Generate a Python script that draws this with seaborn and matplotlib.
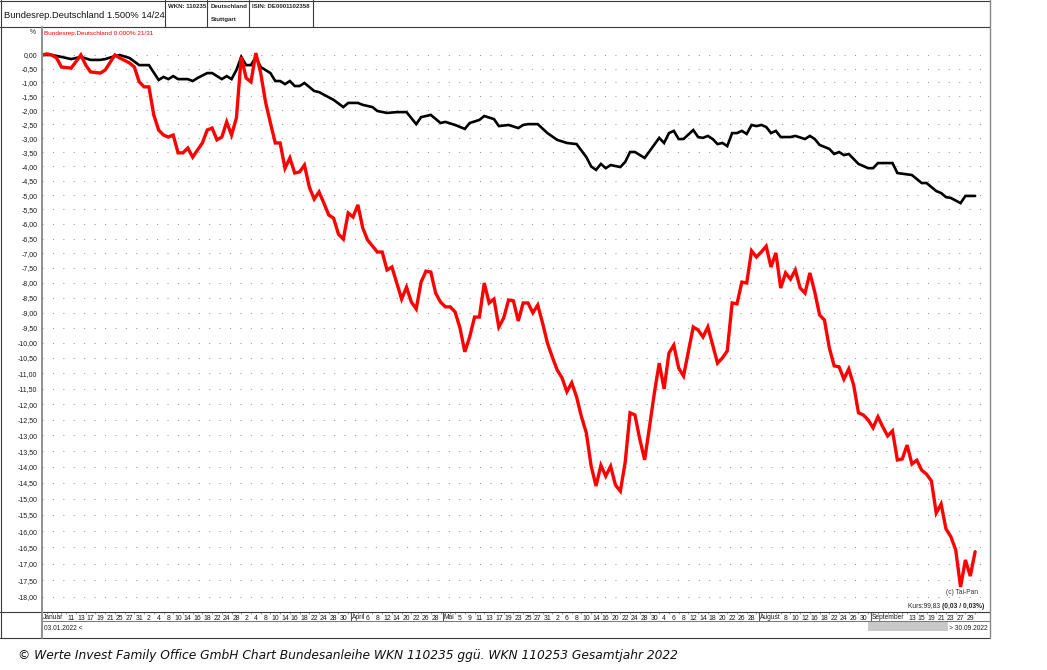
import numpy as np
import pandas as pd
import seaborn as sns
import matplotlib
matplotlib.use("Agg")
import matplotlib.pyplot as plt
from matplotlib.lines import Line2D
from matplotlib.patches import Rectangle
from matplotlib import transforms
from matplotlib import font_manager as fm

# ---------------- data (percent change vs. 03.01.2022, per trading day number) ----------------
black_name = "Bundesrep.Deutschland 1.500% 14/24"
red_name = "Bundesrep.Deutschland 0.000% 21/31"

black_day = [0, 2, 4, 6, 8, 10, 12, 13, 15, 16, 18, 20, 22, 24, 25, 26, 27, 28, 30, 31,
             32, 34, 35, 36, 37, 38, 39, 40, 41, 42, 43, 44, 45, 47, 48, 49, 50, 51, 52, 53,
             54, 56, 57, 60, 62, 63, 65, 66, 68, 69, 71, 73, 75, 77, 78, 80, 82, 83, 85, 87,
             88, 90, 91, 93, 94, 96, 98, 99, 100, 102, 104, 106, 108, 110, 112, 113, 114, 115, 116, 117,
             119, 120, 121, 122, 124, 127, 128, 129, 130, 131, 132, 134, 135, 136, 137, 138, 139, 140, 141, 142,
             143, 144, 145, 146, 147, 148, 149, 150, 151, 152, 154, 155, 157, 158, 159, 160, 162, 163, 164, 165,
             166, 168, 170, 171, 172, 175, 176, 179, 181, 182, 184, 185, 186, 187, 189, 190, 192]
black_pct = [0.00, 0.00, -0.07, -0.15, -0.07, -0.18, -0.18, -0.15, -0.04, 0.00, -0.11, -0.37, -0.37, -0.91, -0.80, -0.88, -0.77, -0.88, -0.88, -0.95,
             -0.84, -0.66, -0.66, -0.77, -0.88, -0.77, -0.88, -0.55, -0.07, -0.37, -0.37, -0.07, -0.44, -0.66, -0.95, -0.95, -1.06, -0.95, -1.13, -1.13,
             -1.02, -1.31, -1.35, -1.63, -1.89, -1.74, -1.74, -1.81, -1.89, -2.03, -2.10, -2.07, -2.07, -2.50, -2.25, -2.17, -2.46, -2.42, -2.53, -2.67,
             -2.46, -2.35, -2.21, -2.32, -2.57, -2.53, -2.64, -2.53, -2.50, -2.50, -2.82, -3.06, -3.17, -3.21, -3.67, -4.00, -4.12, -3.91, -4.06, -3.95,
             -4.02, -3.84, -3.49, -3.49, -3.70, -2.99, -3.17, -2.82, -2.74, -3.03, -3.03, -2.71, -2.96, -2.99, -2.92, -3.03, -3.21, -3.17, -3.28, -2.82,
             -2.82, -2.74, -2.85, -2.53, -2.57, -2.53, -2.60, -2.82, -2.74, -2.96, -2.96, -2.92, -3.03, -2.92, -3.03, -3.24, -3.38, -3.56, -3.49, -3.60,
             -3.56, -3.91, -4.06, -4.06, -3.88, -3.88, -4.23, -4.30, -4.58, -4.58, -4.86, -4.93, -5.07, -5.10, -5.28, -5.03, -5.03]

red_day = [0, 1, 2, 3, 4, 6, 8, 9, 10, 12, 13, 15, 16, 18, 19, 20, 21, 22, 23, 24,
           25, 26, 27, 28, 29, 30, 31, 33, 34, 35, 36, 37, 38, 39, 40, 41, 42, 43, 44, 45,
           46, 47, 48, 49, 50, 51, 52, 53, 54, 55, 56, 57, 58, 59, 60, 61, 62, 63, 64, 65,
           66, 67, 69, 70, 71, 72, 74, 75, 76, 77, 78, 79, 80, 81, 82, 83, 84, 85, 86, 87,
           88, 89, 90, 91, 92, 93, 94, 95, 96, 97, 98, 99, 100, 101, 102, 103, 104, 105, 106, 107,
           108, 109, 110, 111, 112, 113, 114, 115, 116, 117, 118, 119, 120, 121, 122, 123, 124, 125, 126, 127,
           128, 129, 130, 131, 132, 134, 135, 136, 137, 139, 140, 141, 142, 143, 144, 145, 146, 147, 148, 149,
           150, 151, 152, 153, 154, 155, 156, 157, 158, 159, 160, 161, 162, 163, 164, 165, 166, 167, 168, 169,
           170, 171, 172, 173, 174, 175, 176, 177, 178, 179, 180, 181, 182, 183, 184, 185, 186, 187, 188, 189,
           190, 191, 192]
red_pct = [0.00, 0.04, 0.00, -0.11, -0.44, -0.48, 0.00, -0.37, -0.62, -0.66, -0.55, 0.00, -0.11, -0.29, -0.44, -0.98, -1.16, -1.16, -2.17, -2.71,
           -2.89, -2.96, -2.89, -3.52, -3.52, -3.35, -3.67, -3.17, -2.71, -2.64, -3.06, -2.96, -2.42, -2.89, -2.28, -0.07, -0.84, -0.98, 0.07, -0.66,
           -1.71, -2.46, -3.17, -3.17, -4.06, -3.70, -4.23, -4.19, -3.95, -4.72, -5.14, -4.89, -5.28, -5.69, -5.80, -6.35, -6.52, -5.62, -5.76, -5.34,
           -6.14, -6.55, -6.96, -6.96, -7.57, -7.47, -8.55, -8.15, -8.65, -8.88, -7.98, -7.61, -7.64, -8.35, -8.65, -8.81, -8.81, -8.98, -9.51, -10.30,
           -9.81, -9.15, -9.15, -8.01, -8.68, -8.55, -9.48, -9.18, -8.58, -8.61, -9.28, -8.68, -8.68, -9.01, -8.75, -9.35, -10.01, -10.47, -10.89, -11.15,
           -11.60, -11.31, -11.77, -12.41, -12.92, -13.98, -14.60, -13.95, -14.29, -13.98, -14.57, -14.76, -13.85, -12.28, -12.35, -13.12, -13.78, -12.73, -11.64, -10.67,
           -11.51, -10.34, -10.08, -10.83, -11.09, -9.48, -9.58, -9.81, -9.48, -10.67, -10.50, -10.27, -8.68, -8.71, -7.98, -8.01, -6.92, -7.13, -6.96, -6.76,
           -7.47, -6.99, -8.18, -7.67, -7.88, -7.57, -8.18, -8.35, -7.67, -8.31, -9.08, -9.25, -10.17, -10.76, -10.79, -11.19, -10.86, -11.38, -12.28, -12.35,
           -12.51, -12.76, -12.41, -12.73, -13.02, -12.86, -13.78, -13.75, -13.31, -13.91, -13.79, -14.10, -14.23, -14.44, -15.44, -15.16, -15.93, -16.17, -16.57, -17.70,
           -16.88, -17.37, -16.63]

assert len(black_day) == len(black_pct), (len(black_day), len(black_pct))
assert len(red_day) == len(red_pct), (len(red_day), len(red_pct))

first_day, last_day = "2022-01-03", "2022-09-30"
holidays = ["2022-04-15", "2022-04-18"]

# x-axis labels
month_names = ["Januar", "April", "Mai", "August", "September"]
month_starts = ["2022-01-03", "2022-04-01", "2022-05-02", "2022-08-01", "2022-09-01"]
jan_days = [11, 13, 17, 19, 21, 25, 27, 31]
feb_days = [2, 4, 8, 10, 14, 16, 18, 22, 24, 28]
mar_days = [2, 4, 8, 10, 14, 16, 18, 22, 24, 28, 30]
apr_days = [6, 8, 12, 14, 20, 22, 26, 28]
may_days = [5, 9, 11, 13, 17, 19, 23, 25, 27, 31]
jun_days = [2, 6, 8, 10, 14, 16, 20, 22, 24, 28, 30]
jul_days = [4, 6, 8, 12, 14, 18, 20, 22, 26, 28]
aug_days = [8, 10, 12, 16, 18, 22, 24, 26, 30]
sep_days = [13, 15, 19, 21, 23, 27, 29]

y_ticks = list(np.round(np.arange(0.0, -18.001, -0.5), 2))

# ---------------- setup ----------------
sns.set_theme(style="white")
avail = {f.name for f in fm.fontManager.ttflist}
if "Liberation Sans Narrow" in avail:
    NARROW, K = "Liberation Sans Narrow", 1.0
else:
    NARROW, K = "Liberation Sans", 0.82
plt.rcParams["font.family"] = [NARROW, "DejaVu Sans"]

W, H = 1047, 670
fig = plt.figure(figsize=(W / 100, H / 100), dpi=100)
fig.patch.set_facecolor("white")


def fx(x):
    return x / W


def fy(y):
    return 1 - y / H


L, R, T, B = 42, 990, 27, 612
ax = fig.add_axes([fx(L), fy(B), fx(R) - fx(L), fy(T) - fy(B)])
ax.set_facecolor("white")

days = pd.bdate_range(first_day, last_day)
days = days[~days.isin(pd.to_datetime(holidays))]


def pos(d):
    return days.get_loc(pd.Timestamp(d))


df_black = pd.DataFrame({"day": black_day, "pct": black_pct})
df_red = pd.DataFrame({"day": red_day, "pct": red_pct})

sns.lineplot(data=df_black, x="day", y="pct", color="black", linewidth=1.9,
             estimator=None, sort=False, ax=ax, solid_joinstyle="miter")
sns.lineplot(data=df_red, x="day", y="pct", color="#ff0000", linewidth=2.4,
             estimator=None, sort=False, ax=ax, solid_joinstyle="miter")


def fwd(p):
    return np.log1p(np.asarray(p, dtype=float) / 100.0)


def inv(t):
    return 100.0 * np.expm1(np.asarray(t, dtype=float))


ax.set_yscale("function", functions=(fwd, inv))
ax.set_ylim(-18.45, 1.03)
ax.set_xlim(0, 195.06)
ax.set_xlabel("")
ax.set_ylabel("")

ax.set_yticks(y_ticks)
ax.set_yticklabels([f"{v:.2f}".replace(".", ",") for v in y_ticks])
ax.yaxis.set_minor_locator(matplotlib.ticker.NullLocator())
ax.tick_params(axis="y", length=0, pad=3.3, labelsize=6.1 * K, labelcolor="#1a1a1a")
ax.grid(axis="y", linestyle=(0, (1, 9)), color="#9a9a9a", linewidth=0.75)
ax.grid(axis="x", visible=False)
for s in ax.spines.values():
    s.set_visible(False)

# x ticks
tick_pos, tick_lab = [], []
for m, lst in enumerate([jan_days, feb_days, mar_days, apr_days, may_days,
                         jun_days, jul_days, aug_days, sep_days], start=1):
    for d in lst:
        tick_pos.append(pos(f"2022-{m:02d}-{d:02d}"))
        tick_lab.append(str(d))
ax.set_xticks(tick_pos)
ax.set_xticklabels(tick_lab)
ax.set_xticks(range(len(days)), minor=True)
ax.tick_params(axis="x", which="major", direction="out", length=1.8, width=0.6,
               color="#555555", pad=0.5, labelsize=6.0 * K, labelcolor="#1a1a1a")
ax.tick_params(axis="x", which="minor", direction="out", length=1.3, width=0.5,
               color="#777777", bottom=True)

blend = transforms.blended_transform_factory(ax.transData, fig.transFigure)
for name, start in zip(month_names, month_starts):
    p = pos(start)
    if p > 0:
        fig.add_artist(Line2D([p - 0.5, p - 0.5], [fy(612), fy(621)], transform=blend,
                              color="#555555", lw=0.8))
    fig.text(p - 0.3 if p > 0 else p + 0.2, fy(617.6), name, transform=blend,
             ha="left", va="center", fontsize=5.8 * K, color="#1a1a1a")

# ---------------- frame / header ----------------
def hline(y, x0, x1, c="#3a3a3a", lw=0.8):
    fig.add_artist(Line2D([fx(x0), fx(x1)], [fy(y), fy(y)], color=c, lw=lw))


def vline(x, y0, y1, c="#3a3a3a", lw=0.8):
    fig.add_artist(Line2D([fx(x), fx(x)], [fy(y0), fy(y1)], color=c, lw=lw))


hline(0.5, 0, 990)
hline(27, 0, 990)
hline(612, 0, 990)
hline(621, 42, 990, c="#777777", lw=0.7)
hline(637.5, 0, 990)
vline(0.5, 0, 638)
vline(990, 0, 638, c="#888888", lw=1.0)
for xs in [165, 207, 249, 313]:
    vline(xs, 0, 27)
vline(42, 27, 638, c="#8f8f8f", lw=1.4)

fig.text(fx(4), fy(15), black_name, ha="left", va="center", fontsize=8.2 * K, color="#111111")
fig.text(fx(168), fy(7), "WKN: 110235", ha="left", va="center", fontsize=5.4 * K,
         fontweight="bold", color="#222222")
fig.text(fx(211), fy(7), "Deutschland", ha="left", va="center", fontsize=5.4 * K,
         fontweight="bold", color="#222222")
fig.text(fx(211), fy(20), "Stuttgart", ha="left", va="center", fontsize=5.4 * K,
         fontweight="bold", color="#222222")
fig.text(fx(252), fy(7), "ISIN: DE0001102358", ha="left", va="center", fontsize=5.4 * K,
         fontweight="bold", color="#222222")

fig.text(fx(36), fy(33), "%", ha="right", va="center", fontsize=5.8 * K, color="#222222")
fig.text(fx(43.5), fy(33), red_name, ha="left", va="center", fontsize=5.6 * K, color="#ff0000")

fig.text(fx(978), fy(593), "(c) Tai-Pan", ha="right", va="center", fontsize=5.8 * K, color="#333333")
tb = fig.text(fx(984), fy(606), "(0,03 / 0,03%)", ha="right", va="center", fontsize=5.8 * K,
              fontweight="bold", color="#222222")
fig.canvas.draw()
bb = tb.get_window_extent()
fig.text(bb.x0 / W, fy(606), "Kurs:99,83 ", ha="right", va="center", fontsize=5.8 * K, color="#222222")

# date row
fig.text(fx(43.5), fy(628), "03.01.2022 <", ha="left", va="center", fontsize=5.8 * K, color="#222222")
fig.add_artist(Rectangle((fx(868), fy(631)), fx(948) - fx(868), fy(622) - fy(631),
                         transform=fig.transFigure, facecolor="#c8c8c8", edgecolor="none"))
fig.text(fx(988), fy(628), "> 30.09.2022", ha="right", va="center", fontsize=5.8 * K, color="#222222")

# footer
fig.text(fx(18), fy(655), "© Werte Invest Family Office GmbH Chart Bundesanleihe WKN 110235 ggü. "
         "WKN 110253 Gesamtjahr 2022", ha="left", va="center", fontsize=8.85,
         family=["DejaVu Sans"], style="italic", color="#111111")

fig.savefig("out.png", dpi=100, facecolor="white")
